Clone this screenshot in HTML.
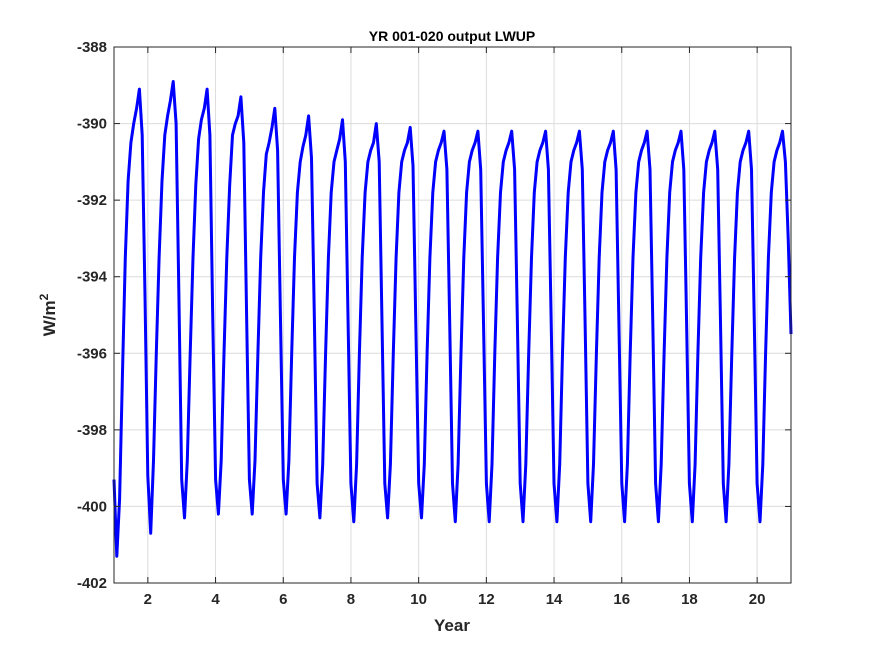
<!DOCTYPE html>
<html><head><meta charset="utf-8"><style>
body{margin:0;background:#fff;}
svg text{font-family:"Liberation Sans",sans-serif;fill:#262626;}
</style></head><body>
<svg id="chart" width="875" height="656" viewBox="0 0 875 656" xmlns="http://www.w3.org/2000/svg">
<rect width="875" height="656" fill="#fff"/>
<g id="grid"></g>
<g id="series"></g>
<g id="axes"></g>
<text x="452" y="41" text-anchor="middle" font-size="14" font-weight="bold" style="fill:#000">YR 001-020 output LWUP</text>
<text x="452" y="631" text-anchor="middle" font-size="17" font-weight="bold">Year</text>
<text transform="translate(55,315) rotate(-90)" text-anchor="middle" font-size="17" font-weight="bold">W/m<tspan dy="-7" font-size="12">2</tspan></text>
</svg>
<script>
const xTicks=[2,4,6,8,10,12,14,16,18,20];
const yTicks=[-388,-390,-392,-394,-396,-398,-400,-402];
const startYear=1;
const monthsPerYear=12;
const lwup=[
-399.3,-401.3,-399.8,-396.5,-393.5,-391.5,-390.5,-390.0,-389.6,-389.1,-390.3,-394.5,
-399.2,-400.7,-398.8,-396.0,-393.5,-391.5,-390.3,-389.8,-389.4,-388.9,-390.0,-394.5,
-399.3,-400.3,-398.8,-396.0,-393.5,-391.6,-390.4,-389.9,-389.6,-389.1,-390.3,-395.0,
-399.3,-400.2,-398.8,-396.0,-393.5,-391.6,-390.3,-390.0,-389.8,-389.3,-390.5,-395.0,
-399.3,-400.2,-398.8,-396.0,-393.5,-391.8,-390.8,-390.5,-390.1,-389.6,-390.7,-395.0,
-399.3,-400.2,-398.8,-396.0,-393.5,-391.8,-391.0,-390.6,-390.3,-389.8,-390.9,-395.0,
-399.4,-400.3,-398.9,-396.0,-393.5,-391.8,-391.0,-390.7,-390.4,-389.9,-391.0,-395.2,
-399.4,-400.4,-398.9,-396.0,-393.5,-391.8,-391.0,-390.7,-390.5,-390.0,-391.0,-395.2,
-399.4,-400.3,-398.9,-396.0,-393.5,-391.8,-391.0,-390.7,-390.5,-390.1,-391.1,-395.2,
-399.4,-400.3,-398.9,-396.0,-393.5,-391.8,-391.0,-390.7,-390.5,-390.2,-391.2,-395.2,
-399.4,-400.4,-398.9,-396.0,-393.5,-391.8,-391.0,-390.7,-390.5,-390.2,-391.2,-395.2,
-399.4,-400.4,-398.9,-396.0,-393.5,-391.8,-391.0,-390.7,-390.5,-390.2,-391.2,-395.2,
-399.4,-400.4,-398.9,-396.0,-393.5,-391.8,-391.0,-390.7,-390.5,-390.2,-391.2,-395.2,
-399.4,-400.4,-398.9,-396.0,-393.5,-391.8,-391.0,-390.7,-390.5,-390.2,-391.2,-395.2,
-399.4,-400.4,-398.9,-396.0,-393.5,-391.8,-391.0,-390.7,-390.5,-390.2,-391.2,-395.2,
-399.4,-400.4,-398.9,-396.0,-393.5,-391.8,-391.0,-390.7,-390.5,-390.2,-391.2,-395.2,
-399.4,-400.4,-398.9,-396.0,-393.5,-391.8,-391.0,-390.7,-390.5,-390.2,-391.2,-395.2,
-399.4,-400.4,-398.9,-396.0,-393.5,-391.8,-391.0,-390.7,-390.5,-390.2,-391.2,-395.2,
-399.4,-400.4,-398.9,-396.0,-393.5,-391.8,-391.0,-390.7,-390.5,-390.2,-391.2,-395.2,
-399.4,-400.4,-398.9,-396.0,-393.5,-391.8,-391.0,-390.7,-390.5,-390.2,-391.0,-393.0,
-395.5
];
const L=114,R=791,T=47,B=583;
const xMin=1,xMax=21,yMin=-402,yMax=-388;
const sx=v=>L+(v-xMin)/(xMax-xMin)*(R-L);
const sy=v=>B-(v-yMin)/(yMax-yMin)*(B-T);
const NS="http://www.w3.org/2000/svg";
function mk(tag,attrs,parent){const e=document.createElementNS(NS,tag);for(const k in attrs)e.setAttribute(k,attrs[k]);parent.appendChild(e);return e;}
const grid=document.getElementById('grid'),axes=document.getElementById('axes'),series=document.getElementById('series');
mk('rect',{x:L,y:T,width:R-L,height:B-T,fill:'#fff'},grid);
xTicks.forEach(v=>{
  const g=mk('line',{x1:sx(v),x2:sx(v),y1:T,y2:B,stroke:'#dcdcdc','stroke-width':1},grid);
  
  
  mk('line',{x1:sx(v),x2:sx(v),y1:B,y2:B-6,stroke:'#262626'},axes);
  mk('line',{x1:sx(v),x2:sx(v),y1:T,y2:T+6,stroke:'#262626'},axes);
  const t=mk('text',{x:sx(v),y:B+21,'text-anchor':'middle','font-size':15,'font-weight':'bold'},axes);
  t.textContent=v;
  
  
});
yTicks.forEach(v=>{
  const g=mk('line',{x1:L,x2:R,y1:sy(v),y2:sy(v),stroke:'#dcdcdc','stroke-width':1},grid);
  
  
  mk('line',{x1:L,x2:L+6,y1:sy(v),y2:sy(v),stroke:'#262626'},axes);
  mk('line',{x1:R,x2:R-6,y1:sy(v),y2:sy(v),stroke:'#262626'},axes);
  const t=mk('text',{x:L-7,y:sy(v)+5,'text-anchor':'end','font-size':15,'font-weight':'bold'},axes);
  t.textContent=v;
  
  
});
const box=mk('rect',{x:L,y:T,width:R-L,height:B-T,fill:'none',stroke:'#262626','stroke-width':1},axes);


const pts=lwup.map((v,i)=>sx(startYear+i/monthsPerYear).toFixed(1)+','+sy(v).toFixed(1)).join(' ');
const line=mk('polyline',{points:pts,fill:'none',stroke:'#0000ff','stroke-width':3,'stroke-linejoin':'round'},series);


</script>
</body></html>
